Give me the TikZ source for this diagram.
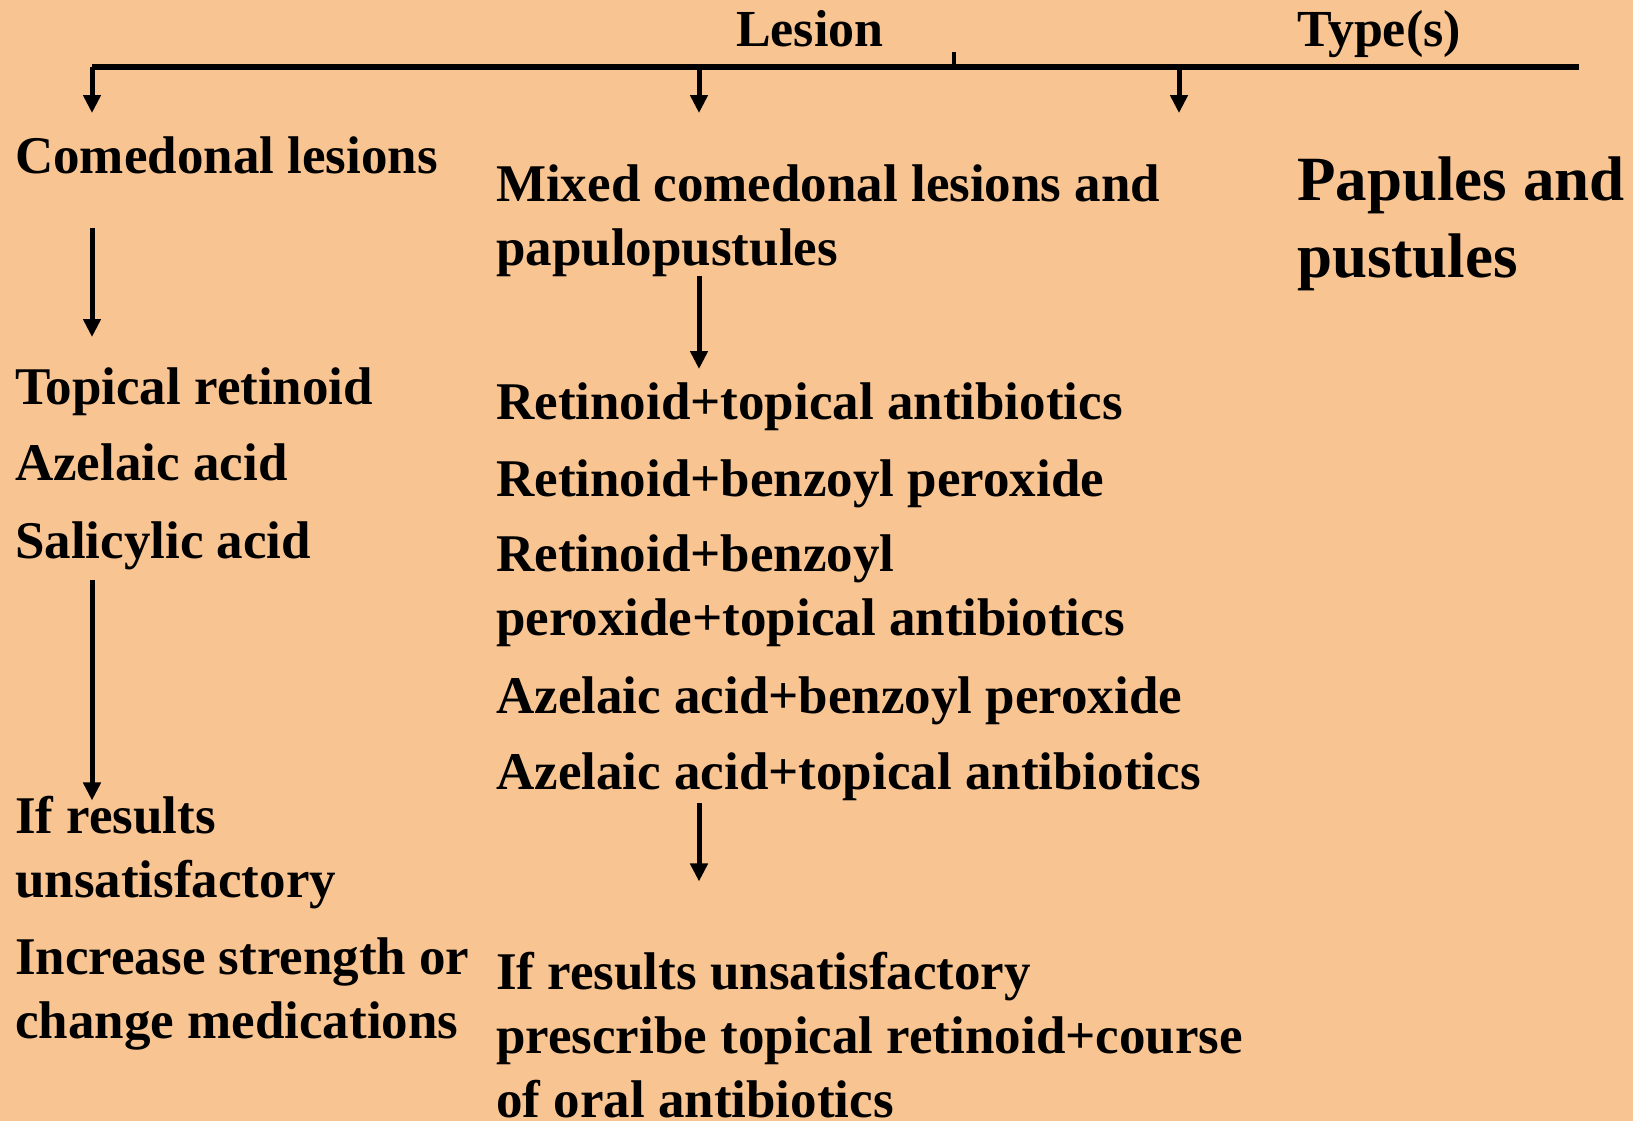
\documentclass[tikz,border=0pt]{standalone}
\usepackage{fontspec}
\setmainfont{Liberation Serif}
\usetikzlibrary{arrows.meta, positioning}
\definecolor{peach}{RGB}{248,196,146}

\begin{document}
\begin{tikzpicture}[x=1pt, y=-1pt,
    txt/.style={inner sep=0pt, anchor=base west, align=left, font=\fontsize{53}{64}\selectfont\bfseries},
    head/.style={inner sep=0pt, anchor=base west, font=\fontsize{52}{62}\selectfont\bfseries},
    big/.style={inner sep=0pt, anchor=base west, align=left, font=\fontsize{63}{77}\selectfont\bfseries},
    arr/.style={-{Triangle[length=18pt, width=17pt]}, line width=5pt}]
  \fill[peach] (0,0) rectangle (1633,1121);
  \useasboundingbox (0,0) rectangle (1633,1121);
  % header bar
  \node[head] (lesion) at (736,47) {Lesion};
  \node[head] (types) at (1297,47) {Type(s)};
  \coordinate (b1) at (92,67);
  \coordinate (b2) at (699,67);
  \coordinate (b3) at (1179,67);
  \coordinate (bend) at (1579,67);
  \coordinate (btick) at (954,67);
  \coordinate (ttick) at (954,52);
  \draw[line width=6pt] (b1) -- (bend);
  \draw[line width=3.5pt] (btick) -- (ttick);
  % left column (multi-line nodes sit on their last line)
  \node[txt] (cl) at (15,173) {Comedonal lesions};
  \node[txt] (tr) at (15,404) {Topical retinoid};
  \node[txt] (aa) at (15,480) {Azelaic acid};
  \node[txt] (sa) at (15,558) {Salicylic acid};
  \node[txt] (ir) at (15,897) {If results\\unsatisfactory};
  \node[txt] (ic) at (15,1038) {Increase strength or\\change medications};
  % middle column
  \node[txt] (mx) at (496,265) {Mixed comedonal lesions and\\papulopustules};
  \node[txt] (rt) at (496,419) {Retinoid+topical antibiotics};
  \node[txt] (rb) at (496,496) {Retinoid+benzoyl peroxide};
  \node[txt] (rbt) at (496,635) {Retinoid+benzoyl\\peroxide+topical antibiotics};
  \node[txt] (ab) at (496,713) {Azelaic acid+benzoyl peroxide};
  \node[txt] (at) at (496,789) {Azelaic acid+topical antibiotics};
  \node[txt] (pr) at (496,1117) {If results unsatisfactory\\prescribe topical retinoid+course\\of oral antibiotics};
  % right column
  \node[big] (pp) at (1297,277) {Papules and\\pustules};
  % arrows
  \draw[arr, shorten >=23pt] (b1) -- (b1 |- cl.north);
  \draw[arr, shorten >=51pt] (b2) -- (b2 |- mx.north);
  \draw[arr, shorten >=43pt] (b3) -- (b3 |- pp.north);
  \draw[arr, shorten <=54pt, shorten >=30pt] (cl.south -| b1) -- (tr.north -| b1);
  \draw[arr, shorten <=10pt, shorten >=-5pt] (sa.south -| b1) -- (ir.north -| b1);
  \draw[arr, shorten >=13pt] (mx.south -| b2) -- (rt.north -| b2);
  \draw[arr, shorten <=3pt, shorten >=70pt] (at.south -| b2) -- (pr.north -| b2);
\end{tikzpicture}
\end{document}
